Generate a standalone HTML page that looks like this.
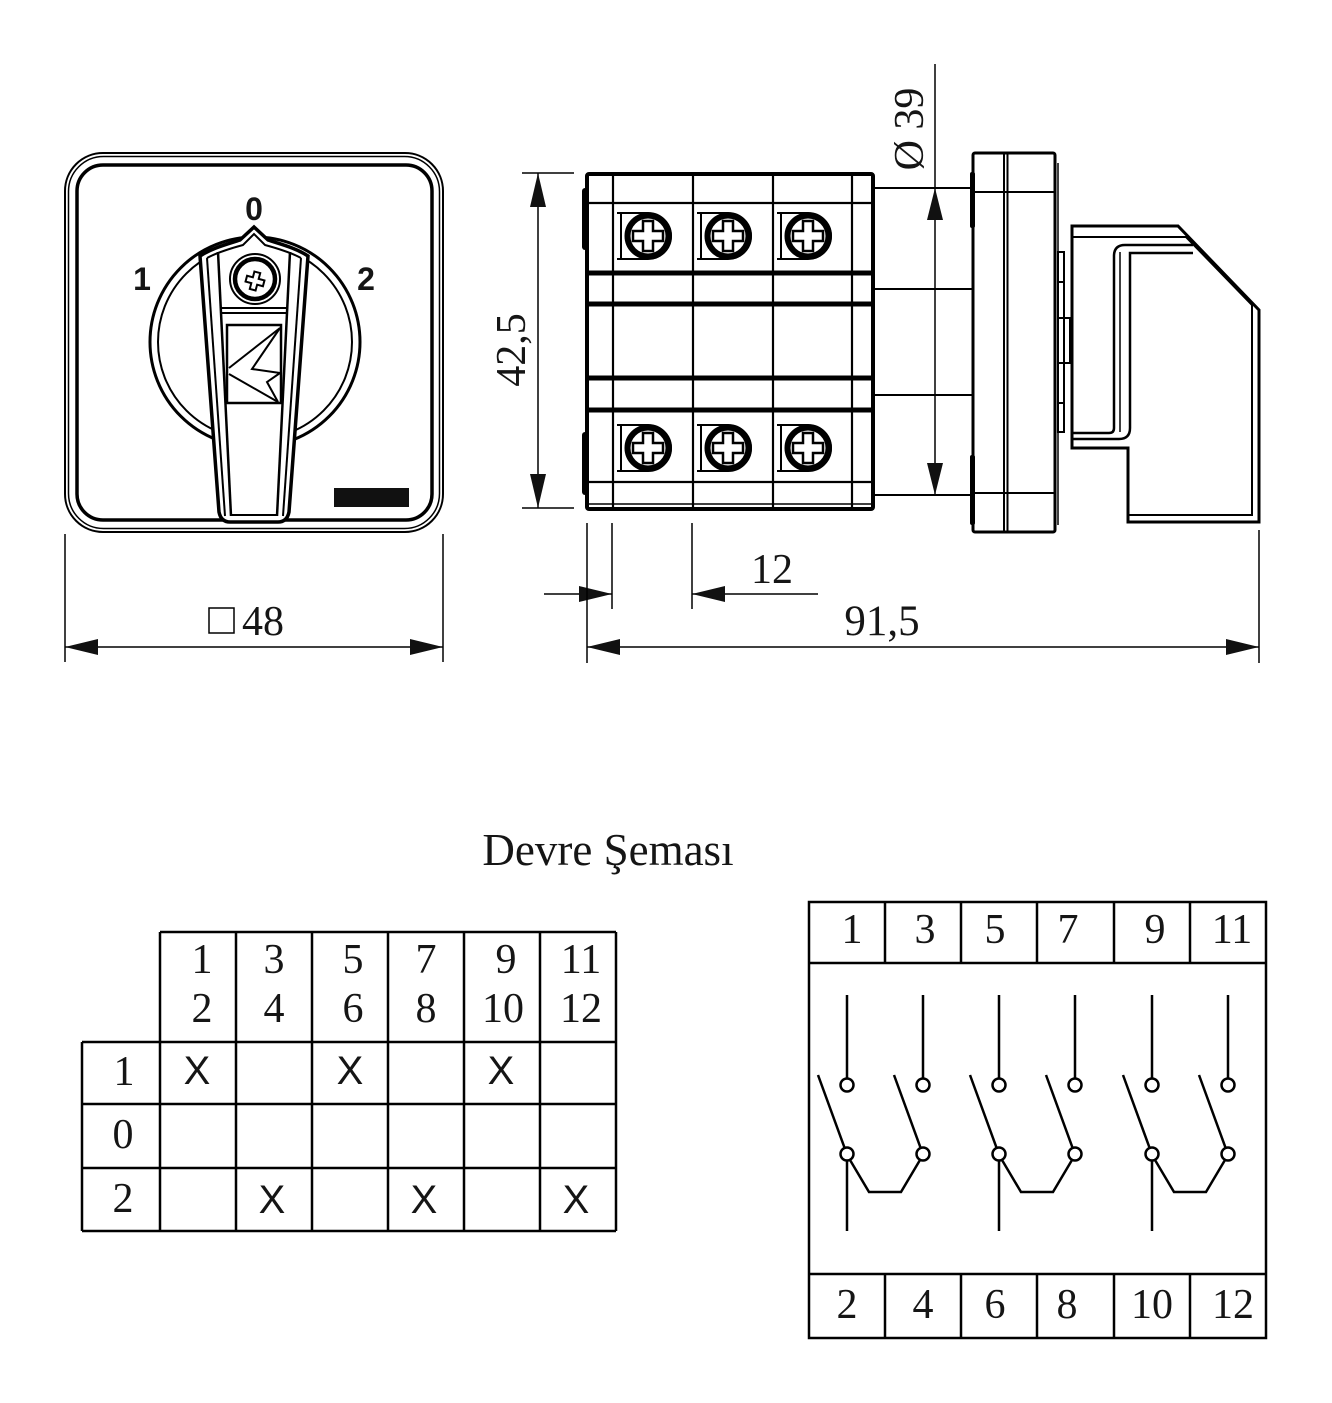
<!DOCTYPE html>
<html><head><meta charset="utf-8"><style>
html,body{margin:0;padding:0;background:#fff;}
svg{display:block;}
text{font-family:"Liberation Serif",serif;fill:#151515;}
.sans{font-family:"Liberation Sans",sans-serif;}
</style></head><body>
<svg width="1332" height="1403" viewBox="0 0 1332 1403" xmlns="http://www.w3.org/2000/svg">
<defs>
<g id="screw">
<path d="M-31,-23 H0 A23,23 0 0 1 0,23 H-31" fill="none" stroke="#000" stroke-width="2"/>
<line x1="-27" y1="-23" x2="-27" y2="23" stroke="#000" stroke-width="2"/>
<path d="M5,-22.5 A23,23 0 0 1 5,22.5" fill="none" stroke="#000" stroke-width="1.5"/>
<circle r="20.5" fill="#fff" stroke="#000" stroke-width="6"/>
<path d="M-5,-15 H5 V-5 H15 V5 H5 V15 H-5 V5 H-15 V-5 H-5 Z" fill="#fff" stroke="#000" stroke-width="2.5"/>
</g>
<g id="sw" fill="none" stroke="#000" stroke-width="2.5">
<line x1="847" y1="995" x2="847" y2="1079"/>
<line x1="923" y1="995" x2="923" y2="1079"/>
<line x1="818" y1="1075" x2="845" y2="1149"/>
<line x1="894" y1="1075" x2="921" y2="1149"/>
<polyline points="850,1160 869,1192 901,1192 920,1160"/>
<line x1="847" y1="1160" x2="847" y2="1231"/>
<circle cx="847" cy="1085" r="6.5" fill="#fff"/>
<circle cx="923" cy="1085" r="6.5" fill="#fff"/>
<circle cx="847" cy="1154" r="6.5" fill="#fff"/>
<circle cx="923" cy="1154" r="6.5" fill="#fff"/>
</g>
</defs>

<!-- ============ FRONT VIEW ============ -->
<g fill="none" stroke="#000">
<rect x="65" y="153" width="378" height="379" rx="38" stroke-width="2"/>
<rect x="68.5" y="156.5" width="371" height="372" rx="35" stroke-width="1.5"/>
<rect x="77" y="165" width="355" height="355" rx="26" stroke-width="3.5"/>
<circle cx="255" cy="342" r="105" stroke-width="3"/>
<circle cx="255" cy="342" r="97" stroke-width="2"/>
</g>
<path d="M200,256 C212,248 228,244 240,240 L254,227 L268,240 C280,244 296,248 308,256 L289,512 Q287,522 278,522 L230,522 Q221,522 219,512 Z" fill="#fff" stroke="#000" stroke-width="3.5"/>
<g fill="none" stroke="#000">
<path d="M207,258 C218,252 232,248 243,245 L254,234 L265,245 C276,248 290,252 301,258" stroke-width="2"/>
<line x1="207" y1="258" x2="225" y2="516" stroke-width="2"/>
<line x1="301" y1="258" x2="283" y2="516" stroke-width="2"/>
<line x1="218" y1="252" x2="231" y2="516" stroke-width="2.5"/>
<line x1="290" y1="252" x2="277" y2="516" stroke-width="2.5"/>
<line x1="231" y1="515" x2="277" y2="515" stroke-width="2"/>
<line x1="220" y1="308" x2="288" y2="308" stroke-width="2"/>
<line x1="220" y1="313" x2="288" y2="313" stroke-width="2"/>
<circle cx="255" cy="279" r="25" stroke-width="2"/>
<circle cx="255" cy="279" r="20" stroke-width="4.5"/>
<g transform="translate(255,281) rotate(15)"><path d="M-3,-9 h6 v6 h6 v6 h-6 v6 h-6 v-6 h-6 v-6 h6 z" fill="#fff" stroke-width="2"/></g>
<rect x="227" y="325" width="54" height="78" stroke-width="2.5"/>
<polyline points="280,328 229,368" stroke-width="2"/>
<polyline points="280,328 252,369 280,373" stroke-width="2"/>
<polyline points="229,374 278,402" stroke-width="2"/>
<polyline points="280,373 267,382 278,402" stroke-width="2"/>
</g>
<rect x="334" y="488" width="75" height="19" fill="#111"/>
<text class="sans" x="254" y="220" font-size="32" font-weight="bold" text-anchor="middle">0</text>
<text class="sans" x="142" y="290" font-size="32" font-weight="bold" text-anchor="middle">1</text>
<text class="sans" x="366" y="290" font-size="32" font-weight="bold" text-anchor="middle">2</text>

<!-- □48 dimension -->
<g stroke="#000" stroke-width="1.5" fill="none">
<line x1="65" y1="534" x2="65" y2="662"/>
<line x1="443" y1="534" x2="443" y2="662"/>
<line x1="65" y1="647" x2="443" y2="647"/>
<rect x="209" y="608" width="25" height="25"/>
</g>
<polygon points="65,647 98,639 98,655" fill="#111"/>
<polygon points="443,647 410,639 410,655" fill="#111"/>
<text x="242" y="635" font-size="42">48</text>

<!-- ============ SIDE VIEW ============ -->
<g fill="#000">
<rect x="582" y="188" width="7" height="62" rx="3"/>
<rect x="582" y="432" width="7" height="63" rx="3"/>
<rect x="970" y="172" width="5" height="56" rx="2"/>
<rect x="970" y="455" width="5" height="70" rx="2"/>
</g>
<g fill="none" stroke="#000">
<rect x="587" y="174" width="286" height="335" rx="2" stroke-width="4"/>
<line x1="613" y1="174" x2="613" y2="509" stroke-width="2.2"/>
<line x1="693" y1="174" x2="693" y2="509" stroke-width="2.2"/>
<line x1="773" y1="174" x2="773" y2="509" stroke-width="2.2"/>
<line x1="852" y1="174" x2="852" y2="509" stroke-width="2.2"/>
<line x1="587" y1="203" x2="873" y2="203" stroke-width="2.2"/>
<line x1="587" y1="273" x2="873" y2="273" stroke-width="5"/>
<line x1="587" y1="304" x2="873" y2="304" stroke-width="5"/>
<line x1="587" y1="378" x2="873" y2="378" stroke-width="5"/>
<line x1="587" y1="410" x2="873" y2="410" stroke-width="5"/>
<line x1="587" y1="482" x2="873" y2="482" stroke-width="2.2"/>
<line x1="587" y1="504" x2="873" y2="504" stroke-width="1.5"/>
<!-- shaft lines -->
<line x1="873" y1="188" x2="973" y2="188" stroke-width="2"/>
<line x1="873" y1="289" x2="973" y2="289" stroke-width="2"/>
<line x1="873" y1="395" x2="973" y2="395" stroke-width="2"/>
<line x1="873" y1="495" x2="973" y2="495" stroke-width="2"/>
<!-- flange -->
<rect x="973" y="153" width="82" height="379" rx="2" stroke-width="3"/>
<line x1="1004" y1="153" x2="1004" y2="532" stroke-width="2"/>
<line x1="1007.5" y1="153" x2="1007.5" y2="532" stroke-width="2"/>
<line x1="973" y1="192" x2="1055" y2="192" stroke-width="2"/>
<line x1="973" y1="493" x2="1055" y2="493" stroke-width="2"/>
<line x1="1058" y1="163" x2="1058" y2="525" stroke-width="1.5"/>
<rect x="1058" y="252" width="6" height="180" stroke-width="2"/>
<line x1="1058" y1="282" x2="1064" y2="282" stroke-width="2"/>
<line x1="1058" y1="403" x2="1064" y2="403" stroke-width="2"/>
<rect x="1058" y="318" width="12" height="45" stroke-width="2"/>
<!-- knob side -->
<path d="M1072,226 L1178,226 L1259,310 L1259,522 L1128,522 L1128,448 L1072,448 Z" stroke-width="3"/>
<path d="M1072,237 L1186,237 L1252,305 L1252,515 L1128,515" stroke-width="2"/>
<path d="M1193,245 L1125,245 Q1114,245 1114,256 L1114,428 Q1114,433 1109,433 L1072,433" stroke-width="2.5"/>
<path d="M1193,253 L1130,253 L1130,428 Q1130,439 1119,439 L1072,439" stroke-width="2.5"/>
<line x1="1120" y1="252" x2="1120" y2="432" stroke-width="1.5"/>
</g>
<use href="#screw" x="648" y="236"/>
<use href="#screw" x="728" y="236"/>
<use href="#screw" x="808" y="236"/>
<use href="#screw" x="648" y="448"/>
<use href="#screw" x="728" y="448"/>
<use href="#screw" x="808" y="448"/>

<!-- 42,5 dimension -->
<g stroke="#000" stroke-width="1.5">
<line x1="522" y1="173" x2="574" y2="173"/>
<line x1="522" y1="508" x2="574" y2="508"/>
<line x1="538" y1="173" x2="538" y2="508"/>
</g>
<polygon points="538,173 530,207 546,207" fill="#111"/>
<polygon points="538,508 530,474 546,474" fill="#111"/>
<text transform="translate(525,350) rotate(-90)" font-size="42" text-anchor="middle">42,5</text>

<!-- Φ39 dimension -->
<line x1="935" y1="64" x2="935" y2="495" stroke="#000" stroke-width="1.5"/>
<polygon points="935,188 927,220 943,220" fill="#111"/>
<polygon points="935,495 927,463 943,463" fill="#111"/>
<text transform="translate(923,129) rotate(-90)" font-size="42" text-anchor="middle">Ø 39</text>

<!-- 12 dimension -->
<g stroke="#000" stroke-width="1.5">
<line x1="612" y1="523" x2="612" y2="609"/>
<line x1="692" y1="523" x2="692" y2="609"/>
<line x1="544" y1="594" x2="612" y2="594"/>
<line x1="692" y1="594" x2="818" y2="594"/>
</g>
<polygon points="612,594 579,586 579,602" fill="#111"/>
<polygon points="692,594 725,586 725,602" fill="#111"/>
<text x="772" y="583" font-size="42" text-anchor="middle">12</text>

<!-- 91,5 dimension -->
<g stroke="#000" stroke-width="1.5">
<line x1="587" y1="523" x2="587" y2="663"/>
<line x1="1259" y1="530" x2="1259" y2="663"/>
<line x1="587" y1="647" x2="1259" y2="647"/>
</g>
<polygon points="587,647 620,639 620,655" fill="#111"/>
<polygon points="1259,647 1226,639 1226,655" fill="#111"/>
<text x="882" y="635" font-size="43" text-anchor="middle">91,5</text>

<!-- ============ TITLE ============ -->
<text x="608" y="865" font-size="45" text-anchor="middle">Devre Şeması</text>

<!-- ============ TABLE ============ -->
<g stroke="#000" stroke-width="2.5" fill="none">
<line x1="160" y1="932" x2="616" y2="932"/>
<line x1="82" y1="1042" x2="616" y2="1042"/>
<line x1="82" y1="1104" x2="616" y2="1104"/>
<line x1="82" y1="1168" x2="616" y2="1168"/>
<line x1="82" y1="1231" x2="616" y2="1231"/>
<line x1="82" y1="1042" x2="82" y2="1231"/>
<line x1="160" y1="932" x2="160" y2="1231"/>
<line x1="236" y1="932" x2="236" y2="1231"/>
<line x1="312" y1="932" x2="312" y2="1231"/>
<line x1="388" y1="932" x2="388" y2="1231"/>
<line x1="464" y1="932" x2="464" y2="1231"/>
<line x1="540" y1="932" x2="540" y2="1231"/>
<line x1="616" y1="932" x2="616" y2="1231"/>
</g>
<g font-size="42" text-anchor="middle">
<text x="202" y="973">1</text><text x="202" y="1022">2</text>
<text x="274" y="973">3</text><text x="274" y="1022">4</text>
<text x="353" y="973">5</text><text x="353" y="1022">6</text>
<text x="426" y="973">7</text><text x="426" y="1022">8</text>
<text x="506" y="973">9</text><text x="503" y="1022">10</text>
<text x="581" y="973">11</text><text x="581" y="1022">12</text>
<text x="124" y="1085">1</text>
<text x="123" y="1148">0</text>
<text x="123" y="1212">2</text>
</g>
<g class="sans" font-size="40" text-anchor="middle">
<text class="sans" x="197" y="1084">X</text>
<text class="sans" x="350" y="1084">X</text>
<text class="sans" x="501" y="1084">X</text>
<text class="sans" x="272" y="1213">X</text>
<text class="sans" x="424" y="1213">X</text>
<text class="sans" x="576" y="1213">X</text>
</g>

<!-- ============ SCHEMATIC ============ -->
<g stroke="#000" stroke-width="2.5" fill="none">
<rect x="809" y="902" width="457" height="436"/>
<line x1="809" y1="963" x2="1266" y2="963"/>
<line x1="809" y1="1274" x2="1266" y2="1274"/>
<line x1="885" y1="902" x2="885" y2="963"/>
<line x1="961" y1="902" x2="961" y2="963"/>
<line x1="1037" y1="902" x2="1037" y2="963"/>
<line x1="1114" y1="902" x2="1114" y2="963"/>
<line x1="1190" y1="902" x2="1190" y2="963"/>
<line x1="885" y1="1274" x2="885" y2="1338"/>
<line x1="961" y1="1274" x2="961" y2="1338"/>
<line x1="1037" y1="1274" x2="1037" y2="1338"/>
<line x1="1114" y1="1274" x2="1114" y2="1338"/>
<line x1="1190" y1="1274" x2="1190" y2="1338"/>
</g>
<use href="#sw"/>
<use href="#sw" x="152"/>
<use href="#sw" x="305"/>
<g font-size="42" text-anchor="middle">
<text x="852" y="943">1</text>
<text x="925" y="943">3</text>
<text x="995" y="943">5</text>
<text x="1068" y="943">7</text>
<text x="1155" y="943">9</text>
<text x="1232" y="943">11</text>
<text x="847" y="1318">2</text>
<text x="923" y="1318">4</text>
<text x="995" y="1318">6</text>
<text x="1067" y="1318">8</text>
<text x="1152" y="1318">10</text>
<text x="1233" y="1318">12</text>
</g>
</svg>
</body></html>
